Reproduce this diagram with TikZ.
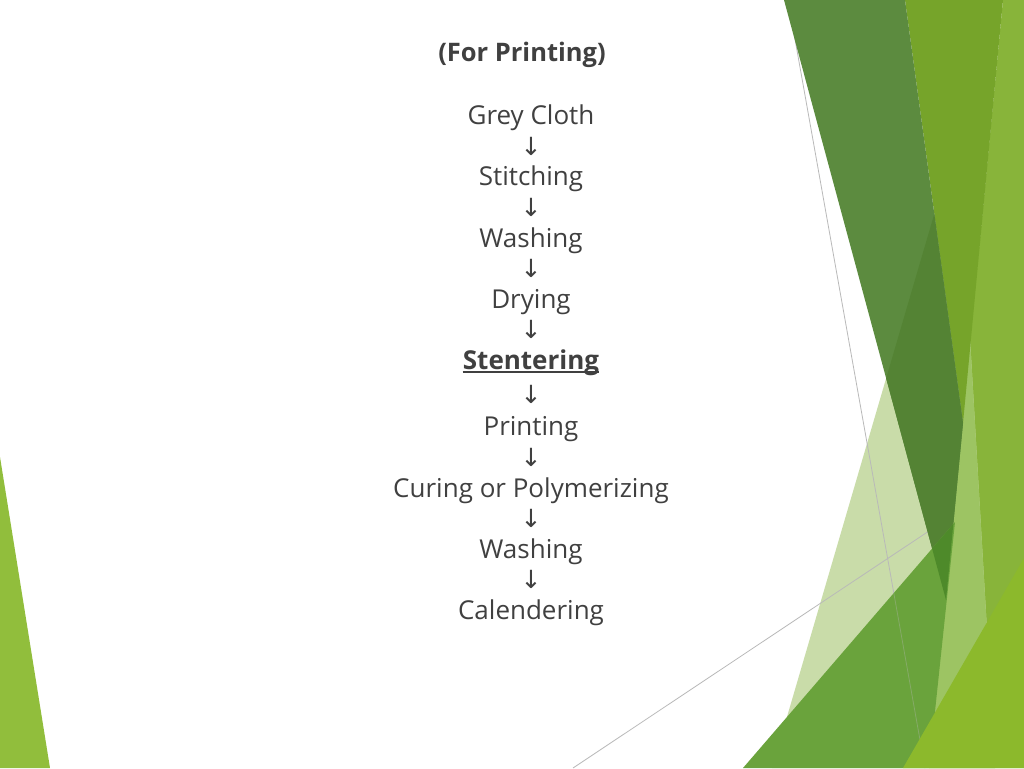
\documentclass[tikz,border=0pt]{standalone}
\usepackage{fontspec}
\setmainfont{Open Sans}
\newfontfamily\arrowfont{DejaVu Sans}
\definecolor{slidetext}{RGB}{64,64,64}
\definecolor{facetband}{RGB}{136,180,58}
\definecolor{facetbandpale}{RGB}{157,196,99}
\definecolor{facetpale}{RGB}{201,220,169}
\definecolor{facetolive}{RGB}{118,164,42}
\definecolor{facetdark}{RGB}{92,139,63}
\definecolor{facetdarker}{RGB}{84,131,52}
\definecolor{facetmid}{RGB}{106,163,60}
\definecolor{facetmiddark}{RGB}{78,138,42}
\definecolor{facetlime}{RGB}{140,185,44}
\definecolor{facetleft}{RGB}{145,190,60}
\definecolor{rulegray}{RGB}{185,185,185}

\begin{document}
\begin{tikzpicture}[x=1pt,y=-1pt]
  \tikzstyle{every node}=[font=\fontsize{26}{31}\selectfont, text=slidetext, inner sep=0pt, anchor=base]
  \tikzstyle{down}=[font=\arrowfont\fontsize{25}{30}\selectfont, anchor=center]
  \useasboundingbox (0,0) rectangle (1024,768);
  \fill[white] (0,0) rectangle (1024,768);

  % facet shapes on the right
  \fill[facetband] (1003,0) -- (1024,0) -- (1024,768) -- (929,768) -- cycle;
  \fill[facetpale] (958,133) -- (772,768) -- (995,768) -- cycle;
  \begin{scope}
    \clip (1003,0) -- (1024,0) -- (1024,768) -- (929,768) -- cycle;
    \fill[facetbandpale] (958,133) -- (772,768) -- (995,768) -- cycle;
  \end{scope}
  \draw[rulegray, line width=0.8pt] (788,0) -- (925,768);
  \draw[rulegray, line width=0.8pt] (573,768) -- (950,517);
  \fill[facetolive] (905,0) -- (1003,0) -- (963,423) -- cycle;
  \fill[facetdark] (784,0) -- (905,0) -- (963,423) -- (946,600) -- cycle;
  \begin{scope}
    \clip (784,0) -- (905,0) -- (963,423) -- (946,600) -- cycle;
    \fill[facetdarker] (958,133) -- (772,768) -- (995,768) -- cycle;
  \end{scope}
  \fill[facetmid] (743,768) -- (955,522) -- (929,768) -- cycle;
  \begin{scope}
    \clip (743,768) -- (955,522) -- (929,768) -- cycle;
    \fill[facetmiddark] (784,0) -- (905,0) -- (963,423) -- (946,600) -- cycle;
    \draw[rulegray, line width=0.8pt, opacity=0.35] (788,0) -- (925,768);
  \end{scope}
  \fill[facetlime] (903,768) -- (1024,558) -- (1024,768) -- cycle;
  % left corner
  \fill[facetleft] (0,457) -- (50,768) -- (0,768) -- cycle;

  % process steps
  \node[font=\fontsize{25.5}{30}\selectfont\bfseries] (title) at (522,62) {(For Printing)};
  \node (grey) at (531,124) {Grey Cloth};
  \node[down] (d1) at (531,146) {↓};
  \node (stitch) at (531,185) {Stitching};
  \node[down] (d2) at (531,207) {↓};
  \node (wash) at (531,247) {Washing};
  \node[down] (d3) at (531,268) {↓};
  \node (dry) at (531,308) {Drying};
  \node[down] (d4) at (531,329) {↓};
  \node[font=\fontsize{26}{31}\selectfont\bfseries] (stenter) at (531,369) {Stentering};
  \draw[slidetext, line width=1.4pt] ([yshift=-3pt]stenter.base west) -- ([yshift=-3pt]stenter.base east);
  \node[down] (d5) at (531,394) {↓};
  \node (print) at (531,435) {Printing};
  \node[down] (d6) at (531,457) {↓};
  \node (cure) at (531,497) {Curing or Polymerizing};
  \node[down] (d7) at (531,518) {↓};
  \node (washb) at (531,558) {Washing};
  \node[down] (d8) at (531,579) {↓};
  \node (calender) at (531,619) {Calendering};
\end{tikzpicture}
\end{document}
